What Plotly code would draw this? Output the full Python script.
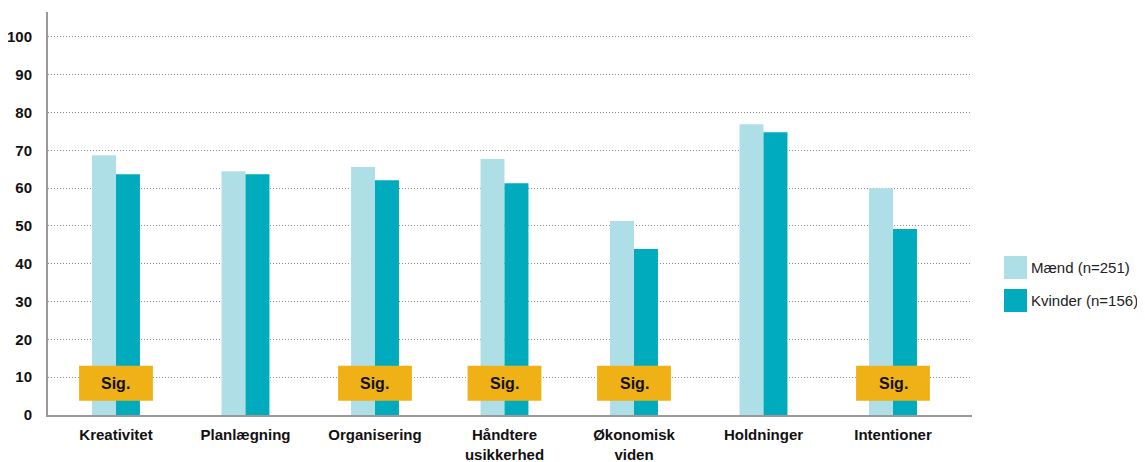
import plotly.graph_objects as go

categories = ["Kreativitet", "Planlægning", "Organisering", "Håndtere<br>usikkerhed",
              "Økonomisk<br>viden", "Holdninger", "Intentioner"]
maend = [68.7, 64.5, 65.6, 67.7, 51.3, 76.9, 60.0]
kvinder = [63.7, 63.7, 62.1, 61.3, 43.9, 74.8, 49.2]
sig = [True, False, True, True, True, False, True]
series_names = ["Mænd (n=251)", "Kvinder (n=156)"]
y_ticks = [0, 10, 20, 30, 40, 50, 60, 70, 80, 90, 100]

C_LIGHT = "#AFDFE6"
C_DARK = "#00ABBD"
C_SIG = "#EFB115"
FONT = "Liberation Sans, Arial, sans-serif"

fig = go.Figure()
fig.add_trace(go.Bar(x=list(range(len(categories))), y=maend, name=series_names[0],
                     marker=dict(color=C_LIGHT, line=dict(width=0)), showlegend=False))
fig.add_trace(go.Bar(x=list(range(len(categories))), y=kvinder, name=series_names[1],
                     marker=dict(color=C_DARK, line=dict(width=0)), showlegend=False))

shapes = []
annotations = []
for i, s in enumerate(sig):
    if s:
        shapes.append(dict(type="rect", xref="x", yref="y", x0=i - 0.285, x1=i + 0.285,
                           y0=3.8, y1=13.0, fillcolor=C_SIG, line=dict(width=0), layer="above"))
        annotations.append(dict(x=i, y=8.4, xref="x", yref="y", text="<b>Sig.</b>",
                                showarrow=False, font=dict(family=FONT, size=16, color="#111111")))

# custom legend (paper coords relative to plot area 924x403 px)
leg = [(series_names[0], C_LIGHT, 256), (series_names[1], C_DARK, 289)]
for name, col, ytop in leg:
    shapes.append(dict(type="rect", xref="paper", yref="paper",
                       x0=(1004 - 48) / 924, x1=(1027 - 48) / 924,
                       y0=(415 - (ytop + 23)) / 403, y1=(415 - ytop) / 403,
                       fillcolor=col, line=dict(width=0)))
    annotations.append(dict(x=(1029 - 48) / 924, y=(415 - (ytop + 11.5)) / 403,
                            xref="paper", yref="paper", text=name, showarrow=False,
                            xanchor="left", yanchor="middle",
                            font=dict(family=FONT, size=15, color="#222222")))

fig.update_layout(
    width=1137, height=454,
    margin=dict(l=40, r=173, t=4, b=47),
    paper_bgcolor="white", plot_bgcolor="white",
    barmode="group", bargap=0.63, bargroupgap=0,
    shapes=shapes, annotations=annotations,
    font=dict(family=FONT, color="#111111"),
    xaxis=dict(tickmode="array", tickvals=list(range(len(categories))),
               ticktext=[f"<b>{c}</b>" for c in categories],
               range=[-0.525, 6.61], showline=True, linecolor="#999999", linewidth=2,
               showgrid=False, ticks="", tickfont=dict(family=FONT, size=15, color="#111111"),
               ticklabelstandoff=5, automargin=False),
    yaxis=dict(range=[0, 106.6], tickmode="array", tickvals=y_ticks,
               ticktext=[f"<b>{t}</b>" for t in y_ticks],
               showline=True, linecolor="#999999", linewidth=2,
               showgrid=True, gridcolor="#8c8c8c", griddash="1px,2px", gridwidth=1,
               zeroline=False, ticks="", tickfont=dict(family=FONT, size=15, color="#111111"),
               ticklabelstandoff=11, automargin=False),
)

fig.write_html("out.html")
